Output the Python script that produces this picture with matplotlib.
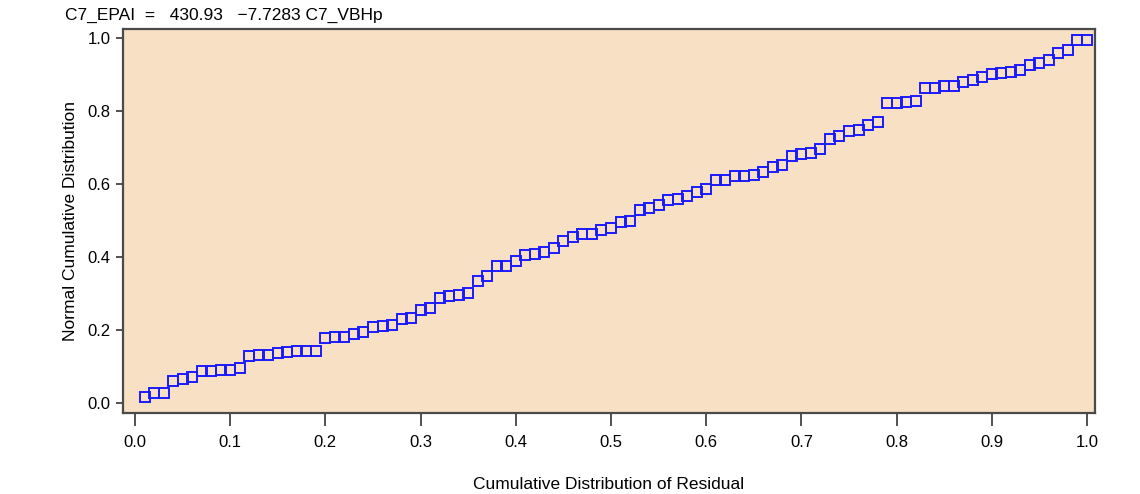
import matplotlib.pyplot as plt

# cumulative distribution of residual (x) and normal cumulative distribution (y)
resid_cdf = [0.01, 0.02, 0.03, 0.04, 0.05, 0.06, 0.07, 0.08, 0.09, 0.10,
             0.11, 0.12, 0.13, 0.14, 0.15, 0.16, 0.17, 0.18, 0.19, 0.20,
             0.21, 0.22, 0.23, 0.24, 0.25, 0.26, 0.27, 0.28, 0.29, 0.30,
             0.31, 0.32, 0.33, 0.34, 0.35, 0.36, 0.37, 0.38, 0.39, 0.40,
             0.41, 0.42, 0.43, 0.44, 0.45, 0.46, 0.47, 0.48, 0.49, 0.50,
             0.51, 0.52, 0.53, 0.54, 0.55, 0.56, 0.57, 0.58, 0.59, 0.60,
             0.61, 0.62, 0.63, 0.64, 0.65, 0.66, 0.67, 0.68, 0.69, 0.70,
             0.71, 0.72, 0.73, 0.74, 0.75, 0.76, 0.77, 0.78, 0.79, 0.80,
             0.81, 0.82, 0.83, 0.84, 0.85, 0.86, 0.87, 0.88, 0.89, 0.90,
             0.91, 0.92, 0.93, 0.94, 0.95, 0.96, 0.97, 0.98, 0.99, 1.00]
normal_cdf = [0.016, 0.027, 0.027, 0.061, 0.066, 0.072, 0.087, 0.087, 0.091, 0.091,
              0.097, 0.129, 0.132, 0.132, 0.138, 0.140, 0.143, 0.143, 0.143, 0.178,
              0.181, 0.181, 0.189, 0.195, 0.207, 0.210, 0.214, 0.230, 0.232, 0.256,
              0.259, 0.289, 0.293, 0.296, 0.300, 0.333, 0.349, 0.375, 0.375, 0.390,
              0.405, 0.409, 0.413, 0.424, 0.443, 0.454, 0.462, 0.464, 0.474, 0.479,
              0.495, 0.498, 0.529, 0.533, 0.543, 0.556, 0.559, 0.567, 0.578, 0.585,
              0.612, 0.612, 0.623, 0.623, 0.626, 0.634, 0.646, 0.652, 0.678, 0.682,
              0.686, 0.697, 0.724, 0.731, 0.744, 0.747, 0.762, 0.771, 0.821, 0.821,
              0.825, 0.828, 0.863, 0.863, 0.869, 0.869, 0.880, 0.884, 0.893, 0.901,
              0.904, 0.906, 0.911, 0.926, 0.932, 0.940, 0.959, 0.967, 0.994, 0.994]

x_ticks = [0.0, 0.1, 0.2, 0.3, 0.4, 0.5, 0.6, 0.7, 0.8, 0.9, 1.0]
y_ticks = [0.0, 0.2, 0.4, 0.6, 0.8, 1.0]
title = "C7_EPAI  =   430.93   \u22127.7283 C7_VBHp"

plt.rcParams['font.family'] = ['Liberation Sans', 'DejaVu Sans']

fig = plt.figure(figsize=(11.4, 4.94), dpi=100)
ax = fig.add_axes([0.1079, 0.164, 0.8526, 0.7773])
ax.set_facecolor('#F7E0C4')

ax.plot(resid_cdf, normal_cdf, linestyle='none', marker='s', markersize=7.2,
        markerfacecolor='none', markeredgecolor='#1a1aff', markeredgewidth=1.4)

ax.set_xlim(-0.0126, 1.0084)
ax.set_ylim(-0.0274, 1.0247)
ax.set_xticks(x_ticks)
ax.set_yticks(y_ticks)
ax.set_xticklabels([f"{v:.1f}" for v in x_ticks])
ax.set_yticklabels([f"{v:.1f}" for v in y_ticks])
ax.tick_params(axis='x', direction='out', length=9, width=1.2, pad=7,
               labelsize=12, color='#333333')
ax.tick_params(axis='y', direction='out', length=5, width=1.2, pad=4,
               labelsize=12, color='#333333')

for s in ax.spines.values():
    s.set_color('#4a4a4a')
    s.set_linewidth(1.6)

ax.set_xlabel("Cumulative Distribution of Residual", fontsize=12.5, labelpad=19)
ax.set_ylabel("Normal Cumulative Distribution", fontsize=12.5, labelpad=7)
fig.text(0.057, 0.968, title, fontsize=12.5, va='center', ha='left')

fig.savefig("out.png", dpi=100)
